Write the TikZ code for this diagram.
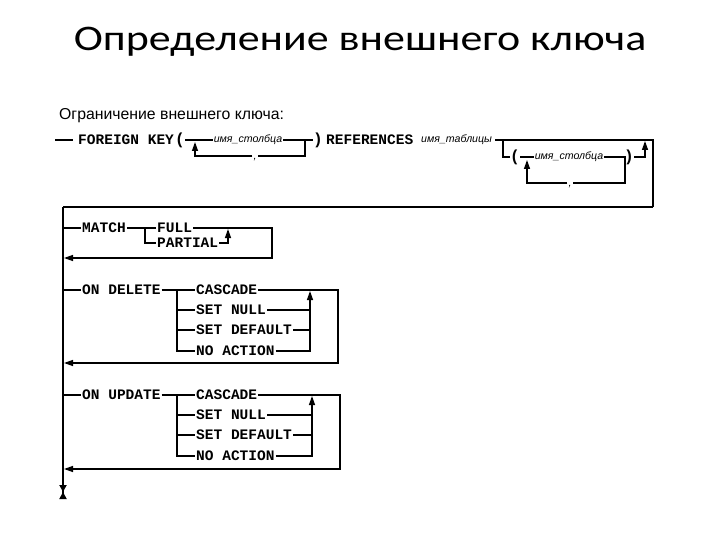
\documentclass[tikz,border=0pt]{standalone}
\usepackage{fontspec}
\setmainfont{Carlito}
\newfontfamily\titlefont{Carlito}[FakeStretch=1.22]
\newfontfamily\kwfont{Liberation Mono}
\newfontfamily\capfont{Liberation Sans}
\usetikzlibrary{arrows.meta}
\tikzset{
  kw/.style={font=\kwfont\bfseries\fontsize{14.5}{16}\selectfont, inner sep=1pt, anchor=west},
  var/.style={font=\capfont\itshape\fontsize{10.6}{12}\selectfont, inner sep=1pt},
  par/.style={font=\kwfont\bfseries\fontsize{16}{18}\selectfont, inner sep=0pt},
  ln/.style={line width=1.3pt},
  up/.style={ln, -{Triangle[length=9pt,width=6pt]}},
  back/.style={ln, -{Triangle[length=9pt,width=6pt]}}
}
\begin{document}
\begin{tikzpicture}[x=1pt,y=-1pt]
\useasboundingbox (0,0) rectangle (720,540);
% title
\node[font=\titlefont\fontsize{36}{40}\selectfont] (title) at (360,42) {Определение внешнего ключа};
\node[font=\capfont\fontsize{15.8}{17}\selectfont, anchor=west, inner sep=0pt] (cap) at (59,116) {Ограничение внешнего ключа:};

% row 1
\coordinate (s0) at (55,140);
\coordinate (s1) at (73,140);
\node[kw] (fk) at (77,140) {FOREIGN KEY};
\node[par] (lp1) at (180,140) {(};
\node[var] (col1) at (248,140) {имя\_столбца};
\coordinate (l1b) at (305,140);
\coordinate (l1c) at (305,156);
\node[var] (c1) at (255,160) {,};
\coordinate (l1d) at (195,156);
\coordinate (l1e) at (195,142);
\node[par] (rp1) at (318,140) {)};
\node[kw] (ref) at (325,140) {REFERENCES};
\node[var, anchor=west] (tab) at (420,140) {имя\_таблицы};
\coordinate (r1) at (653,140);
\coordinate (r2) at (653,207);
\coordinate (b0) at (63,207);
\draw[ln] (s0) -- (s1);
\draw[ln] (lp1.east) -- (col1.west);
\draw[ln] (col1.east) -- (l1b) -- (rp1.west);
\draw[ln] (l1b) -- (l1c) -- (c1.east |- l1c);
\draw[up] (c1.west |- l1d) -- (l1d) -- (l1e);
\draw[ln] ([xshift=2pt]tab.east) -- (r1) -- (r2);
\draw[line width=2pt] (r2) -- (b0);

% optional column list
\coordinate (o1) at (503,140);
\coordinate (o2) at (503,157);
\node[par] (lp2) at (515,157) {(};
\node[var] (col2) at (569,157) {имя\_столбца};
\coordinate (o3) at (625,157);
\coordinate (o4) at (625,183);
\node[var] (c2) at (570,187) {,};
\coordinate (o5) at (527,183);
\coordinate (o6) at (527,160);
\node[par] (rp2) at (629,157) {)};
\coordinate (o7) at (645,157);
\coordinate (o8) at (645,141);
\draw[ln] (o1) -- (o2) -- (lp2.west);
\draw[ln] (lp2.east) -- (col2.west);
\draw[ln] (col2.east) -- (o3) -- (o4) -- (c2.east |- o4);
\draw[up] (c2.west |- o5) -- (o5) -- (o6);
\draw[up] (rp2.east) -- (o7) -- (o8);

% MATCH
\coordinate (m0) at (63,228);
\node[kw] (match) at (81,228) {MATCH};
\coordinate (mb1) at (145,228);
\coordinate (mb2) at (145,243);
\node[kw] (full) at (156,228) {FULL};
\node[kw] (partial) at (156,243) {PARTIAL};
\coordinate (mr1) at (272,228);
\coordinate (mr2) at (272,258);
\coordinate (mr3) at (64,258);
\coordinate (ma1) at (228,243);
\coordinate (ma2) at (228,229);
\draw[ln] (m0) -- (match.west);
\draw[ln] (match.east) -- (mb1) -- (full.west);
\draw[ln] (mb1) -- (mb2) -- (partial.west);
\draw[back] (full.east) -- (mr1) -- (mr2) -- (mr3);
\draw[up] (partial.east) -- (ma1) -- (ma2);

% ON DELETE
\coordinate (d0) at (63,290);
\node[kw] (ondel) at (81,290) {ON DELETE};
\coordinate (db1) at (177,290);
\coordinate (db2) at (177,310);
\coordinate (db3) at (177,330);
\coordinate (db4) at (177,351);
\node[kw] (dcas) at (195,290) {CASCADE};
\node[kw] (dsn) at (195,310) {SET NULL};
\node[kw] (dsd) at (195,330) {SET DEFAULT};
\node[kw] (dna) at (195,351) {NO ACTION};
\coordinate (dr1) at (338,290);
\coordinate (dr2) at (338,363);
\coordinate (dr3) at (64,363);
\coordinate (da1) at (310,310);
\coordinate (da2) at (310,330);
\coordinate (da3) at (310,351);
\coordinate (da4) at (310,291);
\draw[ln] (d0) -- (ondel.west);
\draw[ln] (ondel.east) -- (db1) -- (dcas.west);
\draw[ln] (db1) -- (db4) -- (dna.west);
\draw[ln] (db2) -- (dsn.west);
\draw[ln] (db3) -- (dsd.west);
\draw[back] (dcas.east) -- (dr1) -- (dr2) -- (dr3);
\draw[ln] (dsn.east) -- (da1);
\draw[ln] (dsd.east) -- (da2);
\draw[up] (dna.east) -- (da3) -- (da4);

% ON UPDATE
\coordinate (u0) at (63,395);
\node[kw] (onupd) at (81,395) {ON UPDATE};
\coordinate (ub1) at (177,395);
\coordinate (ub2) at (177,415);
\coordinate (ub3) at (177,435);
\coordinate (ub4) at (177,456);
\node[kw] (ucas) at (195,395) {CASCADE};
\node[kw] (usn) at (195,415) {SET NULL};
\node[kw] (usd) at (195,435) {SET DEFAULT};
\node[kw] (una) at (195,456) {NO ACTION};
\coordinate (ur1) at (340,395);
\coordinate (ur2) at (340,469);
\coordinate (ur3) at (64,469);
\coordinate (ua1) at (312,415);
\coordinate (ua2) at (312,435);
\coordinate (ua3) at (312,456);
\coordinate (ua4) at (312,396);
\draw[ln] (u0) -- (onupd.west);
\draw[ln] (onupd.east) -- (ub1) -- (ucas.west);
\draw[ln] (ub1) -- (ub4) -- (una.west);
\draw[ln] (ub2) -- (usn.west);
\draw[ln] (ub3) -- (usd.west);
\draw[back] (ucas.east) -- (ur1) -- (ur2) -- (ur3);
\draw[ln] (usn.east) -- (ua1);
\draw[ln] (usd.east) -- (ua2);
\draw[up] (una.east) -- (ua3) -- (ua4);

% main vertical
\coordinate (bend) at (63,499);
\draw[line width=2.5pt, -{Triangle[length=7pt,width=7pt] Triangle[reversed,length=7pt,width=7pt]}] (b0) -- (bend);
\end{tikzpicture}
\end{document}
